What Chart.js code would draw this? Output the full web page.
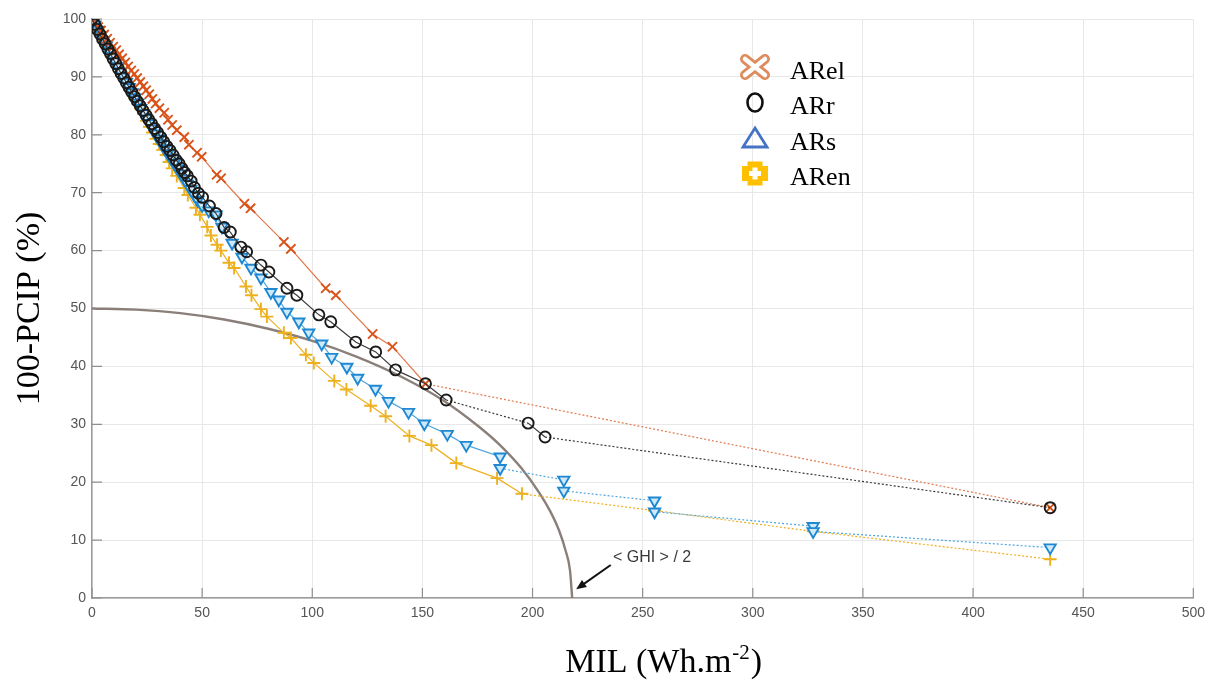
<!DOCTYPE html>
<html>
<head>
<meta charset="utf-8">
<script src="https://cdn.jsdelivr.net/npm/chart.js@4.4.1/dist/chart.umd.min.js"></script>
<style>
  html, body { margin: 0; padding: 0; background: #fff; }
  canvas { display: block; }
</style>
</head>
<body>
<canvas id="chart" width="1212" height="680"></canvas>
<script>
// series: [MIL, 100-PCIP]
const seriesNames = ["ARel", "ARr", "ARs", "ARen"];

const arel = [
  [0, 100], [1.4, 99.3], [2.8, 98.6], [4.1, 98.0], [5.5, 97.3], [6.9, 96.6], [8.2, 95.9], [9.6, 95.2],
  [11.0, 94.6], [12.3, 93.9], [13.7, 93.2], [15.1, 92.5], [16.4, 91.8], [17.8, 91.1], [19.2, 90.5],
  [20.5, 89.8], [21.9, 89.1], [23.3, 88.4], [24.6, 87.7], [26.0, 87.0], [27.4, 86.2], [28.9, 85.4],
  [30.6, 84.6], [32.8, 83.8], [34.5, 82.6], [36.4, 81.7], [38.5, 80.8], [41.9, 79.6], [44.0, 78.3],
  [47.7, 76.9], [49.8, 76.2], [56.6, 73.1], [58.6, 72.5], [69.2, 68.1], [72.0, 67.3], [87.1, 61.5],
  [90.3, 60.3], [106.1, 53.5], [110.7, 52.3], [127.4, 45.6], [136.4, 43.4], [151.4, 37.0], [435, 15.6]
];

const arr = [
  [0, 100], [1.2, 99.1], [2.4, 98.2], [3.6, 97.4], [4.8, 96.5], [6.0, 95.7], [7.2, 94.8], [8.4, 94.0],
  [9.6, 93.1], [10.8, 92.3], [12.0, 91.4], [13.2, 90.6], [14.4, 89.8], [15.6, 89.0], [16.8, 88.2],
  [18.0, 87.4], [19.3, 86.6], [20.6, 85.8], [21.9, 85.0], [23.2, 84.2], [24.5, 83.4], [25.8, 82.6],
  [27.1, 81.9], [28.4, 81.1], [29.8, 80.4], [31.2, 79.6], [32.6, 78.8], [34.0, 78.0], [35.4, 77.3],
  [36.8, 76.5], [38.3, 75.6], [39.6, 75.0], [40.8, 74.2], [42.0, 73.5], [43.3, 72.9], [45.0, 72.0],
  [46.5, 70.9], [48.3, 69.9], [50.2, 69.2], [53.3, 67.7], [56.3, 66.4], [60.0, 64.0], [62.8, 63.2],
  [67.6, 60.6], [70.2, 59.8], [76.7, 57.5], [80.3, 56.3], [88.5, 53.5], [93.0, 52.3], [103.0, 48.9],
  [108.4, 47.7], [119.7, 44.2], [128.8, 42.5], [137.8, 39.4], [151.4, 37.0], [160.8, 34.2],
  [198.0, 30.2], [205.7, 27.8], [435, 15.6]
];

const ars = [
  [0, 100], [1.3, 99.0], [2.6, 98.1], [3.9, 97.2], [5.2, 96.3], [6.5, 95.4], [7.8, 94.5], [9.1, 93.6],
  [10.4, 92.7], [11.7, 91.8], [13.0, 90.9], [14.3, 90.0], [15.6, 89.1], [16.9, 88.2], [18.2, 87.3],
  [19.5, 86.4], [20.8, 85.5], [22.1, 84.6], [23.4, 83.7], [24.7, 82.8], [26.0, 82.0], [27.4, 81.1],
  [28.8, 80.2], [30.2, 79.3], [31.6, 78.5], [33.0, 77.6], [34.4, 76.8], [35.8, 76.0], [37.3, 75.1],
  [38.8, 74.2], [40.3, 73.3], [41.8, 72.4], [43.3, 71.5], [44.8, 70.6], [46.4, 69.6], [48.0, 68.7],
  [50.0, 67.8], [53.0, 66.9], [56.3, 66.2], [59.0, 64.1], [63.6, 61.3], [68.1, 58.9], [72.2, 57.0],
  [76.7, 55.3], [81.2, 52.8], [84.8, 51.5], [88.5, 49.4], [93.9, 47.7], [98.4, 45.8], [104.3, 43.9],
  [108.8, 41.6], [115.7, 39.9], [120.6, 38.0], [128.7, 36.1], [134.6, 34.0], [143.7, 32.1],
  [150.9, 30.1], [161.3, 28.3], [169.9, 26.4], [185.3, 24.4], [185.3, 22.4], [214.2, 20.4],
  [214.2, 18.5], [255.4, 16.8], [255.4, 14.9], [327.4, 12.4], [327.4, 11.5], [435, 8.7]
];

const aren = [
  [0, 100], [1.3, 99.0], [2.6, 98.1], [3.9, 97.2], [5.2, 96.2], [6.5, 95.3], [7.8, 94.4], [9.1, 93.5],
  [10.4, 92.6], [11.7, 91.7], [13.0, 90.8], [14.3, 89.9], [15.6, 89.0], [16.9, 88.1], [18.2, 87.2],
  [19.5, 86.3], [20.8, 85.4], [22.1, 84.5], [23.4, 83.6], [24.7, 82.4], [26.1, 81.4], [27.5, 80.4],
  [29.0, 79.3], [30.5, 78.4], [32.1, 77.4], [33.7, 76.5], [35.0, 75.3], [36.4, 74.2], [38.5, 72.9],
  [41.9, 70.8], [43.5, 69.6], [47.2, 67.4], [49.0, 66.2], [52.3, 64.1], [54.0, 62.6], [56.8, 61.0],
  [58.5, 60.0], [62.2, 57.9], [64.5, 57.0], [69.9, 53.8], [72.4, 52.3], [76.7, 49.9], [79.4, 48.6],
  [87.1, 45.8], [90.3, 44.9], [97.1, 42.0], [100.7, 40.6], [110.0, 37.5], [115.5, 36.0], [126.5, 33.2],
  [133.3, 31.4], [144.1, 28.0], [154.1, 26.4], [165.4, 23.3], [183.9, 20.7], [195.2, 18.0],
  [255.4, 15.1], [327.4, 11.5], [435, 6.7]
];

// <GHI>/2 curve
const ghiHalf = [
  [0, 50], [20, 49.8], [40, 49.2], [60, 48.1], [80, 46.5], [100, 44.4], [120, 41.7], [140, 38.3],
  [160, 34.0], [175, 29.8], [185, 26.5], [195, 22.4], [203, 18.2], [208, 15.0], [212, 11.7],
  [215, 8.2], [217, 4.8], [218, 0]
];
const ghiLabel = "< GHI > / 2";

const xTicks = [0, 50, 100, 150, 200, 250, 300, 350, 400, 450, 500];
const yTicks = [0, 10, 20, 30, 40, 50, 60, 70, 80, 90, 100];
const xTitle = ["MIL (Wh.m", "-2", ")"]; // middle part is a superscript
const yTitle = "100-PCIP (%)";

const toXY = (arr) => arr.map(([x, y]) => ({ x, y }));
const serif = "'Liberation Serif', 'Times New Roman', serif";
const sans = "'Liberation Sans', Arial, sans-serif";

// only the long jumps come out dotted in the reference
const dotted = (ctx) => (ctx.p1.parsed.x - ctx.p0.parsed.x > 20 ? [2, 2] : undefined);

function series(label, data, color, extra) {
  return Object.assign({
    label, data: toXY(data), borderColor: color, pointBorderColor: color,
    backgroundColor: "rgba(0,0,0,0)", borderWidth: 1.2, pointBorderWidth: 1.9,
    pointRadius: 5.5, segment: { borderDash: dotted }, tension: 0,
  }, extra);
}

// inward MATLAB-like ticks, x title with superscript, annotation arrow
const decorPlugin = {
  id: "decor",
  beforeDatasetsDraw(chart) {
    const { ctx, chartArea: a, scales: { x, y } } = chart;
    ctx.save();
    ctx.strokeStyle = "#8f8f8f";
    ctx.lineWidth = 1.2;
    ctx.beginPath();
    xTicks.forEach((v) => { const px = x.getPixelForValue(v); ctx.moveTo(px, a.bottom); ctx.lineTo(px, a.bottom - 10); });
    yTicks.forEach((v) => { const py = y.getPixelForValue(v); ctx.moveTo(a.left, py); ctx.lineTo(a.left + 10, py); });
    ctx.stroke();
    ctx.restore();
  },
  afterDatasetsDraw(chart) {
    const { ctx, chartArea: a, scales: { x, y } } = chart;
    ctx.save();
    // arrow
    const x0 = x.getPixelForValue(235.5), y0 = y.getPixelForValue(5.7);
    const x1 = x.getPixelForValue(219.8), y1 = y.getPixelForValue(1.5);
    const ang = Math.atan2(y1 - y0, x1 - x0);
    ctx.strokeStyle = "#111";
    ctx.fillStyle = "#111";
    ctx.lineWidth = 2;
    ctx.beginPath();
    ctx.moveTo(x0, y0);
    ctx.lineTo(x1 - 6 * Math.cos(ang), y1 - 6 * Math.sin(ang));
    ctx.stroke();
    ctx.beginPath();
    ctx.moveTo(x1, y1);
    ctx.lineTo(x1 - 11 * Math.cos(ang - 0.4), y1 - 11 * Math.sin(ang - 0.4));
    ctx.lineTo(x1 - 11 * Math.cos(ang + 0.4), y1 - 11 * Math.sin(ang + 0.4));
    ctx.closePath();
    ctx.fill();
    ctx.fillStyle = "#3a3a3a";
    ctx.font = "16px " + sans;
    ctx.textBaseline = "middle";
    ctx.fillText(ghiLabel, x.getPixelForValue(236.5), y.getPixelForValue(6.9));

    // x axis title
    const big = "34px " + serif, small = "21px " + serif;
    ctx.font = big; const w0 = ctx.measureText(xTitle[0]).width, w2 = ctx.measureText(xTitle[2]).width;
    ctx.font = small; const w1 = ctx.measureText(xTitle[1]).width;
    let tx = (a.left + a.right) / 2 + 20 - (w0 + w1 + w2) / 2;
    const base = 672;
    ctx.fillStyle = "#000";
    ctx.textBaseline = "alphabetic";
    ctx.font = big; ctx.fillText(xTitle[0], tx, base); tx += w0;
    ctx.font = small; ctx.fillText(xTitle[1], tx + 1, base - 13); tx += w1 + 2;
    ctx.font = big; ctx.fillText(xTitle[2], tx, base);
    ctx.restore();
  },
};

// legend drawn inside the plot, with the reference's big icons
const legendPlugin = {
  id: "innerLegend",
  afterDraw(chart) {
    const { ctx, chartArea: a } = chart;
    const cx = a.left + 663, top = a.top + 48, step = 35.5;
    ctx.save();
    seriesNames.forEach((name, i) => {
      const cy = top + i * step;
      ctx.lineCap = "round";
      if (i === 0) {
        ctx.strokeStyle = "#DE8C5E"; ctx.lineWidth = 10;
        ctx.beginPath(); ctx.moveTo(cx - 10, cy - 8); ctx.lineTo(cx + 10, cy + 8); ctx.moveTo(cx + 10, cy - 8); ctx.lineTo(cx - 10, cy + 8); ctx.stroke();
        ctx.strokeStyle = "#fff"; ctx.lineWidth = 4.5; ctx.stroke();
      } else if (i === 1) {
        ctx.strokeStyle = "#111"; ctx.lineWidth = 2.6;
        ctx.beginPath(); ctx.ellipse(cx, cy, 7.5, 9, 0, 0, Math.PI * 2); ctx.stroke();
      } else if (i === 2) {
        ctx.strokeStyle = "#4472C4"; ctx.lineWidth = 2.8; ctx.lineJoin = "miter";
        ctx.beginPath(); ctx.moveTo(cx, cy - 10); ctx.lineTo(cx + 12, cy + 9); ctx.lineTo(cx - 12, cy + 9); ctx.closePath(); ctx.stroke();
      } else {
        ctx.lineCap = "butt";
        ctx.strokeStyle = "#FFC000"; ctx.lineWidth = 15;
        ctx.beginPath(); ctx.moveTo(cx - 13, cy); ctx.lineTo(cx + 13, cy); ctx.moveTo(cx, cy - 12); ctx.lineTo(cx, cy + 12); ctx.stroke();
        ctx.strokeStyle = "#fff"; ctx.lineWidth = 5;
        ctx.beginPath(); ctx.moveTo(cx - 6, cy); ctx.lineTo(cx + 6, cy); ctx.moveTo(cx, cy - 6); ctx.lineTo(cx, cy + 6); ctx.stroke();
      }
      ctx.fillStyle = "#000";
      ctx.font = "26px " + serif;
      ctx.textBaseline = "middle";
      ctx.fillText(name, cx + 35, cy + 5);
    });
    ctx.restore();
  },
};

new Chart(document.getElementById("chart"), {
  type: "line",
  data: {
    datasets: [
      series(seriesNames[1], arr, "#1a1a1a", { borderColor: "#3a3a3a", order: 1 }),
      series(seriesNames[0], arel, "#D95319", { pointStyle: "crossRot", pointRadius: 6.5, borderColor: "#E07A4E", order: 2 }),
      series(seriesNames[2], ars, "#1E88D2", { pointStyle: "triangle", rotation: 180, pointRadius: 6.5, borderColor: "#4FA6DE", pointBackgroundColor: "#CFE9F8", order: 3 }),
      series(seriesNames[3], aren, "#EDB120", { pointStyle: "cross", pointRadius: 6.5, order: 4 }),
      {
        label: "<GHI>/2", data: toXY(ghiHalf), borderColor: "#8B7F7A", borderWidth: 2.4,
        pointRadius: 0, cubicInterpolationMode: "monotone", order: 5,
      },
    ],
  },
  options: {
    responsive: false,
    animation: false,
    layout: { padding: { top: 19, right: 15, left: 0, bottom: 0 } },
    plugins: { legend: { display: false }, tooltip: { enabled: false } },
    scales: {
      x: {
        type: "linear", min: 0, max: 500,
        afterBuildTicks: (s) => { s.ticks = xTicks.map((v) => ({ value: v })); },
        afterFit: (s) => { s.height = 82; },
        grid: { color: "#e8e8e8", drawTicks: false },
        border: { color: "#9a9a9a", width: 1.5 },
        ticks: { color: "#555", font: { family: sans, size: 14 }, padding: 7, maxRotation: 0 },
        title: { display: false },
      },
      y: {
        type: "linear", min: 0, max: 100,
        afterBuildTicks: (s) => { s.ticks = yTicks.map((v) => ({ value: v })); },
        afterFit: (s) => { s.width = 92; },
        grid: { color: "#e8e8e8", drawTicks: false },
        border: { color: "#9a9a9a", width: 1.5 },
        ticks: { color: "#555", font: { family: sans, size: 14 }, padding: 6 },
        title: { display: true, text: yTitle, color: "#000", font: { family: serif, size: 34 }, padding: { top: 10, bottom: 0 } },
      },
    },
  },
  plugins: [decorPlugin, legendPlugin],
});
</script>
</body>
</html>
